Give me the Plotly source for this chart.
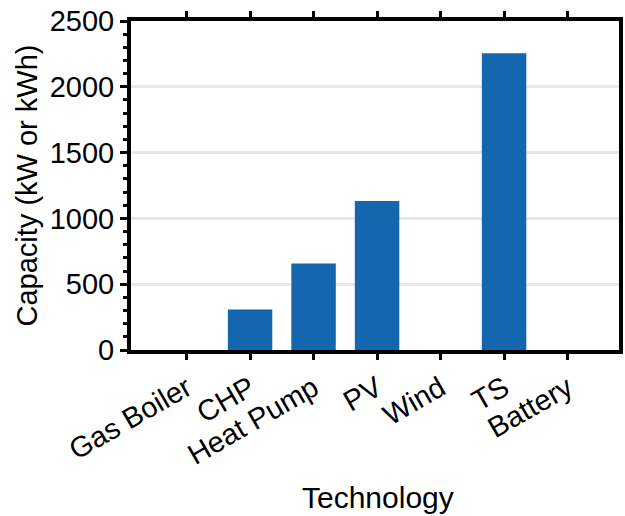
import plotly.graph_objects as go

categories = ["Gas Boiler", "CHP", "Heat Pump", "PV", "Wind", "TS", "Battery"]
capacity = [0, 308, 658, 1132, 0, 2254, 0]
y_ticks = [0, 500, 1000, 1500, 2000, 2500]

FONT = "Liberation Sans, Arial, sans-serif"

fig = go.Figure()
fig.add_trace(go.Bar(
    x=list(range(len(categories))),
    y=capacity,
    marker=dict(color="#1467ae", line=dict(width=0)),
    width=0.7,
))

fig.update_layout(
    width=625, height=516,
    margin=dict(l=131, r=6, t=21, b=166, autoexpand=False),
    plot_bgcolor="white", paper_bgcolor="white",
    font=dict(family=FONT, size=29, color="black"),
    showlegend=False,
    xaxis=dict(
        range=[-0.875, 6.81],
        tickmode="array",
        tickvals=list(range(len(categories))),
        ticktext=categories,
        tickangle=-30,
        tickfont=dict(size=29),
        ticks="outside", ticklen=6, tickwidth=3, tickcolor="black",
        showline=True, linewidth=4, linecolor="black", mirror="allticks",
        showgrid=False, zeroline=False, automargin=False,
        ticklabeloverflow="allow",
    ),
    yaxis=dict(
        range=[0, 2500],
        tickmode="array", tickvals=y_ticks,
        tickfont=dict(size=29),
        ticks="outside", ticklen=7, tickwidth=3, tickcolor="black",
        minor=dict(dtick=100, ticks="outside", ticklen=4, tickwidth=2.5, tickcolor="black", showgrid=False),
        showline=True, linewidth=4, linecolor="black", mirror=True,
        showgrid=True, gridcolor="#e8e8e8", gridwidth=3,
        zeroline=False, automargin=False,
        ticklabeloverflow="allow",
    ),
    annotations=[
        dict(text="Technology", xref="paper", yref="paper", x=0.5, y=0,
             xanchor="center", yanchor="middle", xshift=3, yshift=-147,
             showarrow=False, font=dict(size=30)),
        dict(text="Capacity (kW or kWh)", xref="paper", yref="paper", x=0, y=0.5,
             xanchor="center", yanchor="middle", xshift=-105, textangle=-90,
             showarrow=False, font=dict(size=29)),
    ],
)

fig.write_html("out.html", config={"displayModeBar": False},
               post_script="document.body.style.margin='0';")
